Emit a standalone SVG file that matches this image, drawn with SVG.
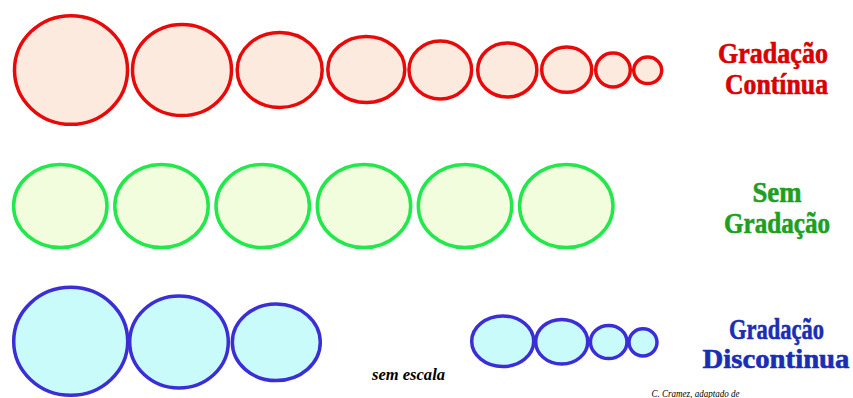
<svg xmlns="http://www.w3.org/2000/svg" width="853" height="398" viewBox="0 0 853 398">
<style>
.r{fill:#fdeadf;stroke:#e80a0a;stroke-width:3.5}
.g{fill:#f1fddd;stroke:#22e84c;stroke-width:3.5}
.b{fill:#c8fbfa;stroke:#3c2ed6;stroke-width:3.5}
text{font-family:"Liberation Serif","DejaVu Serif","Times New Roman",serif}
.t{font-weight:bold;font-size:29px;text-anchor:middle;stroke-width:0.6}
</style>
<rect width="853" height="398" fill="#ffffff"/>
<g id="row-continua">
<ellipse class="r" cx="71" cy="70" rx="56.5" ry="54.3"/>
<ellipse class="r" cx="182" cy="70" rx="49.5" ry="45.5"/>
<ellipse class="r" cx="279.7" cy="70" rx="42.5" ry="37.5"/>
<ellipse class="r" cx="366.3" cy="69.5" rx="38.5" ry="33"/>
<ellipse class="r" cx="440.3" cy="70" rx="31.3" ry="29"/>
<ellipse class="r" cx="507.3" cy="70" rx="29.6" ry="27"/>
<ellipse class="r" cx="566.7" cy="69.7" rx="25" ry="22.6"/>
<ellipse class="r" cx="613" cy="70" rx="17.3" ry="17"/>
<ellipse class="r" cx="647.7" cy="70.3" rx="14" ry="13.3"/>
</g>
<g id="label-continua" class="t" fill="#d80000" stroke="#d80000">
<text x="773" y="62.5" textLength="110" lengthAdjust="spacingAndGlyphs">Gradação</text>
<text x="776.5" y="94" textLength="103" lengthAdjust="spacingAndGlyphs">Contínua</text>
</g>
<g id="row-sem">
<ellipse class="g" cx="60.3" cy="206" rx="46.7" ry="41.6"/>
<ellipse class="g" cx="161.5" cy="206" rx="46.7" ry="41.6"/>
<ellipse class="g" cx="262.7" cy="206" rx="46.7" ry="41.6"/>
<ellipse class="g" cx="364" cy="206" rx="46.7" ry="41.6"/>
<ellipse class="g" cx="465" cy="206" rx="46.7" ry="41.6"/>
<ellipse class="g" cx="566.3" cy="206" rx="46.7" ry="41.6"/>
</g>
<g id="label-sem" class="t" fill="#1f9e1f" stroke="#1f9e1f">
<text x="777" y="202" textLength="49" lengthAdjust="spacingAndGlyphs">Sem</text>
<text x="777" y="232.5" textLength="106" lengthAdjust="spacingAndGlyphs">Gradação</text>
</g>
<g id="row-discontinua">
<ellipse class="b" cx="70.7" cy="341.3" rx="57" ry="54"/>
<ellipse class="b" cx="179" cy="342" rx="49.3" ry="46"/>
<ellipse class="b" cx="276.3" cy="342.3" rx="44" ry="38.3"/>
<ellipse class="b" cx="502.7" cy="341.3" rx="31" ry="25.3"/>
<ellipse class="b" cx="561.7" cy="341.7" rx="26" ry="22.3"/>
<ellipse class="b" cx="608.7" cy="342" rx="18.3" ry="16.6"/>
<ellipse class="b" cx="643" cy="342.3" rx="14" ry="13.6"/>
</g>
<g id="label-discontinua" class="t" fill="#1a2db4" stroke="#1a2db4">
<text x="776.5" y="339" font-size="30" textLength="95" lengthAdjust="spacingAndGlyphs">Gradação</text>
<text x="776" y="367.5" font-size="28" textLength="147" lengthAdjust="spacingAndGlyphs">Discontinua</text>
</g>
<g id="note-escala">
<text x="408.5" y="380" font-weight="bold" font-style="italic" font-size="16.5" text-anchor="middle" fill="#000" textLength="73" lengthAdjust="spacingAndGlyphs">sem escala</text>
</g>
<g id="note-credit">
<text x="651.5" y="396.5" font-style="italic" font-size="9.5" fill="#000" textLength="88" lengthAdjust="spacingAndGlyphs">C. Cramez, adaptado de</text>
</g>
</svg>
